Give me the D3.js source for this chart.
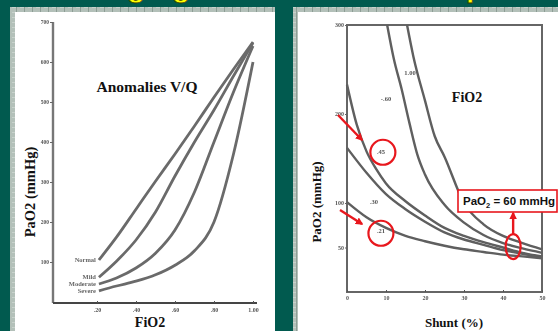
<!DOCTYPE html>
<html>
<head>
<meta charset="utf-8">
<script src="https://cdn.jsdelivr.net/npm/d3@7"></script>
<style>
  html, body { margin: 0; padding: 0; background: #015a4f; }
  svg { display: block; }
</style>
</head>
<body>
<div id="chart"></div>
<script>
// left chart: PaO2 vs FiO2 for V/Q mismatch
const fio2Grid = [0.21, 0.3, 0.4, 0.5, 0.6, 0.7, 0.8, 0.9, 1.0];
const normalPaO2 = [105, 162, 232, 302, 370, 440, 512, 582, 650];
const mildPaO2 = [62, 102, 155, 225, 315, 400, 480, 565, 648];
const moderatePaO2 = [45, 60, 85, 122, 180, 275, 400, 525, 640];
const severePaO2 = [28, 40, 52, 68, 92, 128, 200, 370, 600];
const vqNames = ['Normal', 'Mild', 'Moderate', 'Severe'];
const fio2Ticks = [0.2, 0.4, 0.6, 0.8, 1.0];
const fio2TickLabels = ['.20', '.40', '.60', '.80', '1.00'];
const paoLeftTicks = [100, 200, 300, 400, 500, 600, 700];

// right chart: PaO2 vs shunt for several FiO2
const shunt100 = [15.4, 17, 20, 22.5, 25, 30, 35, 40, 45, 50];
const pao100 = [300, 265, 215, 175, 152, 100, 76, 63, 55, 48];
const shunt60 = [10.3, 12, 14, 16, 18, 20, 25, 30, 35, 40, 45, 50];
const pao60 = [300, 262, 228, 190, 155, 132, 98, 78, 64, 55, 49, 44];
const shunt45 = [0, 2.5, 5, 7.5, 10, 15, 20, 25, 30, 35, 40, 45, 50];
const pao45 = [233, 188, 158, 138, 122, 102, 86, 72, 63, 56, 50, 44, 40];
const shunt30 = [0, 5, 10, 15, 20, 25, 30, 35, 40, 45, 50];
const pao30 = [162, 134, 110, 93, 79, 67, 59, 53, 47, 43, 39];
const shunt21 = [0, 5, 10, 15, 20, 25, 30, 35, 40, 45, 50];
const pao21 = [101, 84, 72, 63, 57, 52, 48, 45, 42, 40, 38];
const shuntTicks = [0, 10, 20, 30, 40, 50];
const paoRightTicks = [50, 100, 200, 300];

const width = 558, height = 331;

const svg = d3.select('#chart').append('svg')
  .attr('width', width)
  .attr('height', height);

const defs = svg.append('defs');
const pat = defs.append('pattern')
  .attr('id', 'strip')
  .attr('width', 8).attr('height', 5)
  .attr('patternUnits', 'userSpaceOnUse');
pat.append('rect').attr('width', 8).attr('height', 5).attr('fill', '#b3c0b9');
pat.append('rect').attr('x', 0).attr('y', 0).attr('width', 1).attr('height', 5).attr('fill', '#8d9d95');
pat.append('rect').attr('x', 4).attr('y', 2).attr('width', 4).attr('height', 1).attr('fill', '#c8d2cc');

defs.append('filter').attr('id', 'scan')
  .append('feGaussianBlur').attr('stdDeviation', 0.55);

defs.append('marker')
  .attr('id', 'head')
  .attr('viewBox', '0 0 10 10')
  .attr('refX', 8).attr('refY', 5)
  .attr('markerWidth', 3.2).attr('markerHeight', 3.2)
  .attr('orient', 'auto')
  .append('path')
  .attr('d', 'M0,0L10,5L0,10z')
  .attr('fill', '#e8171d');

// slide background + bottom of the slide title (cut off by the frame, as in the slide)
svg.append('rect').attr('width', width).attr('height', height).attr('fill', '#015a4f');
const title = svg.append('g')
  .attr('font-family', 'Liberation Sans, Arial, sans-serif')
  .attr('font-weight', 'bold')
  .attr('font-size', 30)
  .attr('fill', '#ffff00')
  .attr('stroke', '#3a3a00')
  .attr('stroke-width', 0.8);
title.append('text').attr('x', 127).attr('y', -3).text('g');
title.append('text').attr('x', 172).attr('y', -3).text('g');
title.append('text').attr('x', 466).attr('y', -3).text('p');

// panels
svg.append('rect').attr('x', 10).attr('y', 7).attr('width', 265).attr('height', 324).attr('fill', 'url(#strip)');
svg.append('rect').attr('x', 15).attr('y', 12).attr('width', 260).attr('height', 319).attr('fill', '#fff');
svg.append('rect').attr('x', 293).attr('y', 7).attr('width', 265).attr('height', 324).attr('fill', 'url(#strip)');
svg.append('rect').attr('x', 298).attr('y', 12).attr('width', 260).attr('height', 319).attr('fill', '#fff');

const serif = 'Liberation Serif, Times New Roman, serif';

// ---------- left chart ----------
const xL = d3.scaleLinear().domain([0, 1]).range([58, 253]);
const yL = d3.scaleLinear().domain([0, 700]).range([302, 22]);

const left = svg.append('g').attr('filter', 'url(#scan)');

left.append('line')
  .attr('x1', 53).attr('x2', 53)
  .attr('y1', yL(700)).attr('y2', 303)
  .attr('stroke', '#777').attr('stroke-width', 2.4);
left.append('line')
  .attr('x1', 53).attr('x2', 257)
  .attr('y1', 303).attr('y2', 303)
  .attr('stroke', '#444').attr('stroke-width', 1.8);

const yAxisL = left.append('g')
  .attr('transform', 'translate(53,0)')
  .call(d3.axisLeft(yL).tickValues(paoLeftTicks).tickSize(3).tickPadding(1).tickFormat(d3.format('d')));
yAxisL.select('.domain').remove();
yAxisL.selectAll('line').attr('stroke', '#666');
yAxisL.selectAll('text').attr('font-size', 5.5).attr('font-family', serif).attr('fill', '#555').attr('font-weight', 'bold');

const xAxisL = left.append('g')
  .attr('transform', 'translate(0,303)')
  .call(d3.axisBottom(xL).tickValues(fio2Ticks).tickSize(-2).tickPadding(5)
    .tickFormat((d, i) => fio2TickLabels[i]));
xAxisL.select('.domain').remove();
xAxisL.selectAll('line').attr('stroke', '#555');
xAxisL.selectAll('text').attr('font-size', 6).attr('font-family', serif).attr('fill', '#555').attr('font-weight', 'bold');

const vqSeries = [normalPaO2, mildPaO2, moderatePaO2, severePaO2];
const lineL = d3.line()
  .x((d, i) => xL(fio2Grid[i]))
  .y(d => yL(d))
  .curve(d3.curveMonotoneX);

left.selectAll('.vq')
  .data(vqSeries)
  .join('path')
  .attr('class', 'vq')
  .attr('d', lineL)
  .attr('fill', 'none')
  .attr('stroke', '#6b6b6b')
  .attr('stroke-width', 2.8);

left.selectAll('.vqlab')
  .data(vqSeries)
  .join('text')
  .attr('class', 'vqlab')
  .attr('x', xL(fio2Grid[0]) - 3)
  .attr('y', d => yL(d[0]) + 2)
  .attr('text-anchor', 'end')
  .attr('font-family', serif)
  .attr('font-size', 6.5)
  .attr('font-weight', 'bold')
  .attr('fill', '#666')
  .text((d, i) => vqNames[i]);

svg.append('text')
  .attr('x', 147).attr('y', 92)
  .attr('text-anchor', 'middle')
  .attr('font-family', serif).attr('font-weight', 'bold').attr('font-size', 15.5)
  .attr('fill', '#111')
  .text('Anomalies V/Q');
svg.append('text')
  .attr('transform', 'translate(35,192) rotate(-90)')
  .attr('text-anchor', 'middle')
  .attr('font-family', serif).attr('font-weight', 'bold').attr('font-size', 14.5)
  .attr('fill', '#111')
  .text('PaO2 (mmHg)');
svg.append('text')
  .attr('x', 150).attr('y', 327)
  .attr('text-anchor', 'middle')
  .attr('font-family', serif).attr('font-weight', 'bold').attr('font-size', 14)
  .attr('fill', '#111')
  .text('FiO2');

// ---------- right chart ----------
const xR = d3.scaleLinear().domain([0, 50]).range([347, 542]);
const yR = d3.scaleLinear().domain([0, 300]).range([292, 25]);

const right = svg.append('g').attr('filter', 'url(#scan)');

right.append('rect')
  .attr('x', xR(0)).attr('y', yR(300))
  .attr('width', xR(50) - xR(0)).attr('height', yR(0) - yR(300))
  .attr('fill', 'none').attr('stroke', '#666').attr('stroke-width', 2);

const yAxisR = right.append('g')
  .attr('transform', 'translate(347,0)')
  .call(d3.axisLeft(yR).tickValues(paoRightTicks).tickSize(2).tickPadding(1).tickFormat(d3.format('d')));
yAxisR.select('.domain').remove();
yAxisR.selectAll('line').attr('stroke', '#666');
yAxisR.selectAll('text').attr('font-size', 6).attr('font-family', serif).attr('fill', '#555').attr('font-weight', 'bold');

const xAxisR = right.append('g')
  .attr('transform', 'translate(0,292)')
  .call(d3.axisBottom(xR).tickValues(shuntTicks).tickSize(-2).tickPadding(4).tickFormat(d3.format('d')));
xAxisR.select('.domain').remove();
xAxisR.selectAll('line').attr('stroke', '#555');
xAxisR.selectAll('text').attr('font-size', 6).attr('font-family', serif).attr('fill', '#555').attr('font-weight', 'bold');

const shuntSeries = [
  { x: shunt100, y: pao100, label: '1.00', lx: 410, ly: 75 },
  { x: shunt60, y: pao60, label: '-.60', lx: 386, ly: 101 },
  { x: shunt45, y: pao45, label: '.45', lx: 381, ly: 154 },
  { x: shunt30, y: pao30, label: '.30', lx: 374, ly: 204 },
  { x: shunt21, y: pao21, label: '.21', lx: 381, ly: 233 }
];

const lineR = s => d3.line()
  .x((d, i) => xR(s.x[i]))
  .y(d => yR(d))
  .curve(d3.curveMonotoneX)(s.y);

right.selectAll('.sh')
  .data(shuntSeries)
  .join('path')
  .attr('class', 'sh')
  .attr('d', lineR)
  .attr('fill', 'none')
  .attr('stroke', '#5e5e5e')
  .attr('stroke-width', 2.4);

right.selectAll('.shlab')
  .data(shuntSeries)
  .join('text')
  .attr('class', 'shlab')
  .attr('x', d => d.lx).attr('y', d => d.ly)
  .attr('text-anchor', 'middle')
  .attr('font-family', serif).attr('font-size', 6.5).attr('font-weight', 'bold')
  .attr('fill', '#555')
  .text(d => d.label);

svg.append('text')
  .attr('x', 467).attr('y', 102)
  .attr('text-anchor', 'middle')
  .attr('font-family', serif).attr('font-weight', 'bold').attr('font-size', 14)
  .attr('fill', '#111')
  .text('FiO2');
svg.append('text')
  .attr('transform', 'translate(321,202) rotate(-90)')
  .attr('text-anchor', 'middle')
  .attr('font-family', serif).attr('font-weight', 'bold').attr('font-size', 13)
  .attr('fill', '#111')
  .text('PaO2 (mmHg)');
svg.append('text')
  .attr('x', 454).attr('y', 327)
  .attr('text-anchor', 'middle')
  .attr('font-family', serif).attr('font-weight', 'bold').attr('font-size', 13)
  .attr('fill', '#111')
  .text('Shunt (%)');

// red annotations
const red = '#e8171d';
const ann = svg.append('g').attr('fill', 'none').attr('stroke', red).attr('stroke-width', 2.2);
ann.append('circle').attr('cx', xR(9.2)).attr('cy', yR(157)).attr('r', 12.5);
ann.append('circle').attr('cx', xR(8.7)).attr('cy', yR(66)).attr('r', 12.5);
ann.append('ellipse').attr('cx', xR(42.6)).attr('cy', yR(51)).attr('rx', 7.5).attr('ry', 12.5);
ann.append('line')
  .attr('x1', 338).attr('y1', 115).attr('x2', 362).attr('y2', 140)
  .attr('stroke-width', 2.4).attr('marker-end', 'url(#head)');
ann.append('line')
  .attr('x1', 340).attr('y1', 210).attr('x2', 362).attr('y2', 224)
  .attr('stroke-width', 2.4).attr('marker-end', 'url(#head)');
ann.append('line')
  .attr('x1', xR(42.6)).attr('y1', yR(51) - 12.5).attr('x2', xR(42.6)).attr('y2', 213)
  .attr('stroke-width', 2.4).attr('marker-end', 'url(#head)');

svg.append('rect')
  .attr('x', 458).attr('y', 190).attr('width', 99).attr('height', 22)
  .attr('fill', '#fff').attr('stroke', red).attr('stroke-width', 1.6);
const call = svg.append('text')
  .attr('x', 463).attr('y', 205)
  .attr('font-family', 'Liberation Sans, Arial, sans-serif')
  .attr('font-weight', 'bold').attr('font-size', 11.5)
  .attr('fill', '#111');
call.append('tspan').text('PaO');
call.append('tspan').attr('font-size', 7.5).attr('dy', 3).text('2');
call.append('tspan').attr('dy', -3).text(' = 60 mmHg');
</script>
</body>
</html>
